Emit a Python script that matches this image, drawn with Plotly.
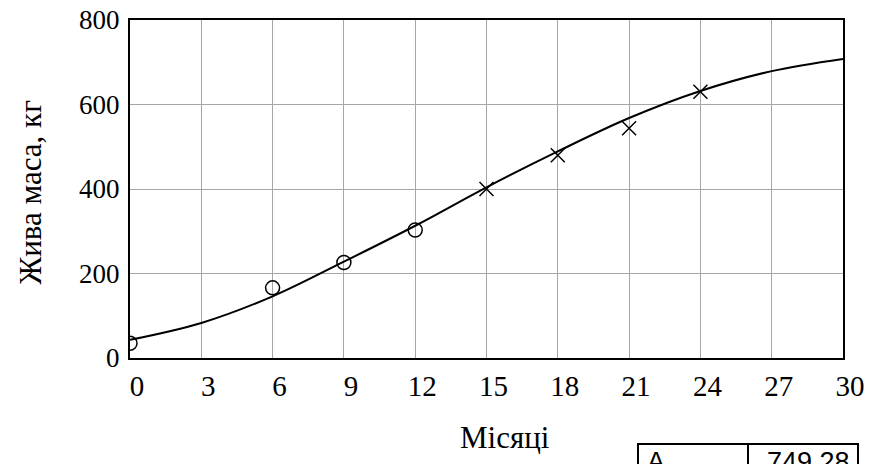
import plotly.graph_objects as go

# Fitted growth curve, live mass (kg) by month
curve_months = [0, 3, 6, 9, 12, 15, 18, 21, 24, 27, 30]
curve_mass = [43, 83, 146, 228, 313, 404, 489, 568, 632, 679, 708]

# Observed weights: early period (circles) and later period (crosses)
obs1_months = [0, 6, 9, 12]
obs1_mass = [35, 166, 226, 303]
obs2_months = [15, 18, 21, 24]
obs2_mass = [400, 480, 544, 630]

x_ticks = [0, 3, 6, 9, 12, 15, 18, 21, 24, 27, 30]
y_ticks = [0, 200, 400, 600, 800]

param_name = "A"
param_value = "749.28"

serif = "Liberation Serif, Times New Roman, serif"
sans = "Liberation Sans, Arial, sans-serif"

fig = go.Figure()
fig.add_trace(go.Scatter(
    x=curve_months, y=curve_mass, mode="lines",
    line=dict(color="black", width=2, shape="spline", smoothing=1.0),
    hoverinfo="skip"))
fig.add_trace(go.Scatter(
    x=obs1_months, y=obs1_mass, mode="markers",
    marker=dict(symbol="circle-open", size=14, color="black",
                line=dict(width=1.5, color="black"))))
fig.add_trace(go.Scatter(
    x=obs2_months, y=obs2_mass, mode="markers",
    marker=dict(symbol="x-thin-open", size=14, color="black",
                line=dict(width=1.5, color="black"))))

axis_common = dict(
    showgrid=True, gridcolor="#a6a6a6", gridwidth=1,
    showline=True, linecolor="black", linewidth=2, mirror=True,
    zeroline=False, ticks="", automargin=False,
)

fig.update_layout(
    width=869, height=464,
    margin=dict(l=130, r=26, t=20, b=106),
    paper_bgcolor="white", plot_bgcolor="white",
    showlegend=False,
    xaxis=dict(range=[0, 30], tickvals=x_ticks, ticklabelstandoff=1,
               ticklabelshift=7,
               tickfont=dict(family=serif, size=29, color="black"),
               **axis_common),
    yaxis=dict(range=[0, 800], tickvals=y_ticks, ticklabelstandoff=3,
               tickfont=dict(family=serif, size=27, color="black"),
               **axis_common),
)

fig.add_annotation(
    text="Жива маса, кг", textangle=-90, xref="paper", yref="paper",
    x=-0.14, y=0.49, xanchor="center", yanchor="middle", showarrow=False,
    font=dict(family=serif, size=31, color="black"))
fig.add_annotation(
    text="Місяці", xref="paper", yref="paper",
    x=0.526, y=-0.235, xanchor="center", yanchor="middle", showarrow=False,
    font=dict(family=serif, size=31, color="black"))

# Parameter table (bottom right), placed in pixel terms of the plot frame
def px_x(p):
    return (p - 130) / (843 - 130)

def px_y(p):
    return (358 - p) / (358 - 20)

fig.add_shape(type="rect", xref="paper", yref="paper",
              x0=px_x(638), x1=px_x(858), y0=px_y(480), y1=px_y(444),
              line=dict(color="black", width=2))
fig.add_shape(type="line", xref="paper", yref="paper",
              x0=px_x(748), x1=px_x(748), y0=px_y(480), y1=px_y(444),
              line=dict(color="black", width=2))
fig.add_annotation(text=param_name, xref="paper", yref="paper",
                   x=px_x(645), y=px_y(445), xanchor="left", yanchor="top",
                   showarrow=False,
                   font=dict(family=sans, size=27, color="black"))
fig.add_annotation(text=param_value, xref="paper", yref="paper",
                   x=px_x(852), y=px_y(445), xanchor="right", yanchor="top",
                   showarrow=False,
                   font=dict(family=sans, size=27, color="black"))

fig.write_html("out.html")
